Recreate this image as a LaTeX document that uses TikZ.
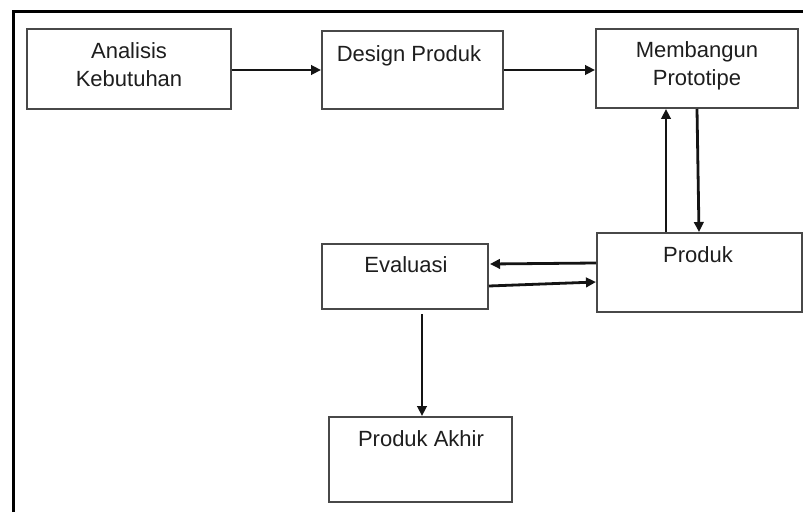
\documentclass[tikz,border=0pt]{standalone}
\usepackage{fontspec}
\setmainfont{Liberation Sans}
\usetikzlibrary{arrows.meta}
\definecolor{boxline}{HTML}{484848}
\definecolor{ink}{HTML}{1E1E1E}
\begin{document}
\begin{tikzpicture}[x=1pt,y=1pt,
  stage/.style={draw=boxline, line width=2pt, fill=white, inner sep=0pt},
  caption/.style={inner sep=0pt, anchor=base, text=ink, font=\fontsize{22}{28}\selectfont},
  flow/.style={draw=black!92, line width=2.8pt, -{Triangle[length=10pt,width=9.5pt]}}]
  \useasboundingbox (0,0) rectangle (803,512);
  % outer frame (left and top edges only)
  \draw[line width=3pt, black] (13,0) -- (13,500) -- (803,500);

  % process boxes (centre = middle of each rectangle, y measured from bottom)
  \node[stage, minimum width=204pt, minimum height=80pt] (ak) at (129,443) {};
  \node[stage, minimum width=181pt, minimum height=78pt] (ds) at (412.5,442) {};
  \node[stage, minimum width=202pt, minimum height=79pt] (mb) at (697,443.5) {};
  \node[stage, minimum width=205pt, minimum height=79pt] (pr) at (699.5,239.5) {};
  \node[stage, minimum width=166pt, minimum height=65pt] (ev) at (405,235.5) {};
  \node[stage, minimum width=183pt, minimum height=85pt] (pa) at (420.5,52.5) {};

  % box captions
  \node[caption] (akA) at (129,453) {Analisis};
  \node[caption] (akB) at (129,425) {Kebutuhan};
  \node[caption] (dsT) at (409,450) {Design Produk};
  \node[caption] (mbA) at (697,454) {Membangun};
  \node[caption] (mbB) at (697,426) {Prototipe};
  \node[caption] (prT) at (698,249) {Produk};
  \node[caption] (evT) at (406,240) {Evaluasi};
  \node[caption] (paT) at (421,66) {Produk Akhir};

  % connectors
  \draw[flow] ([yshift=-1pt]ak.east) -- ([yshift=0pt]ds.west);
  \draw[flow] (ds.east) -- ([yshift=-1.5pt]mb.west);
  \draw[flow] ([xshift=-33.5pt]pr.north) -- ([xshift=-31pt]mb.south);
  \draw[flow] ([xshift=0pt]mb.south) -- ([xshift=-0.5pt]pr.north);
  \draw[flow] ([yshift=9.5pt]pr.west) -- ([yshift=12.5pt,xshift=1pt]ev.east);
  \draw[flow] ([yshift=-9.5pt]ev.east) -- ([yshift=-9.5pt]pr.west);
  \draw[flow] ([xshift=17pt,yshift=-4pt]ev.south) -- ([xshift=1.5pt]pa.north);
\end{tikzpicture}
\end{document}
